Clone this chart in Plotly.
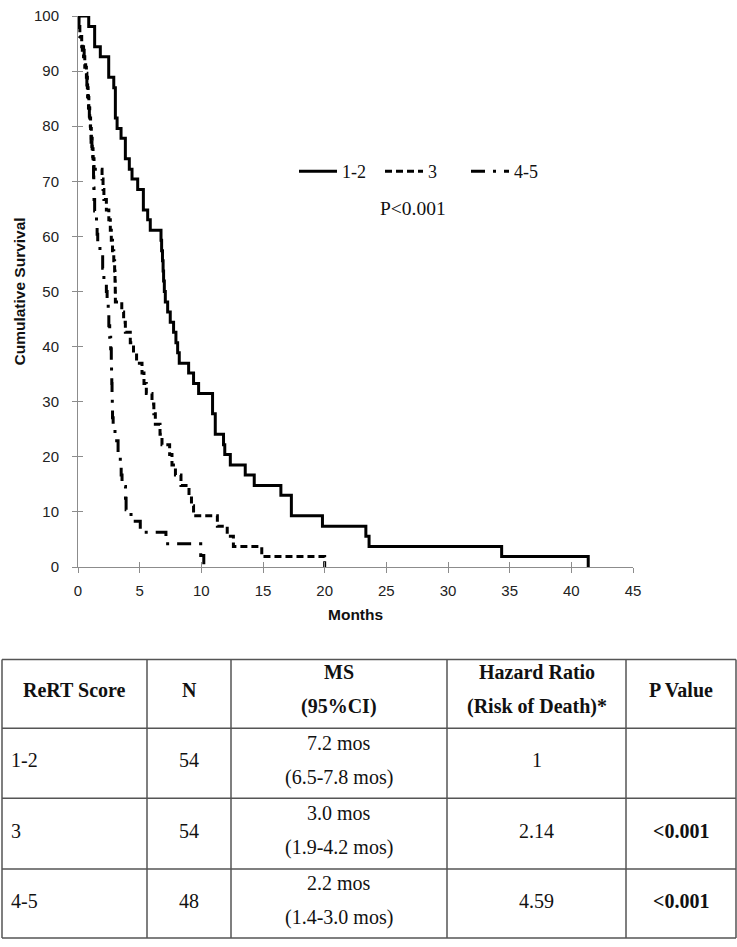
import plotly.graph_objects as go

# ---------------- data ----------------
t12 = [0, 0.87, 1.35, 1.81, 2.49, 2.90, 3.03, 3.17, 3.49, 3.84, 4.16, 4.38, 4.84, 5.30, 5.65, 5.86,
       6.73, 6.78, 6.85, 6.90, 6.94, 7.00, 7.08, 7.27, 7.48, 7.75, 7.94, 8.08, 8.21, 8.97, 9.37, 9.78,
       10.91, 11.13, 11.80, 11.90, 12.35, 13.56, 14.29, 16.45, 17.30, 19.82, 23.34, 23.60, 34.35, 41.37]
s12 = [100, 98.1, 94.4, 92.6, 88.9, 87.0, 81.5, 79.6, 77.8, 74.1, 72.2, 70.4, 68.5, 64.8, 63.0, 61.1,
       59.3, 57.4, 55.6, 53.7, 51.9, 50.0, 48.1, 46.3, 44.4, 42.6, 40.7, 38.9, 37.0, 35.2, 33.3, 31.5,
       27.8, 24.1, 22.2, 20.4, 18.5, 16.7, 14.8, 13.0, 9.3, 7.4, 5.6, 3.7, 1.9, 0]

t3 = [0, 0.05, 0.15, 0.30, 0.45, 0.55, 0.68, 0.76, 0.82, 0.88, 0.95, 1.02, 1.08, 1.15, 1.22, 1.30,
      1.95, 2.03, 2.10, 2.30, 2.50, 2.62, 2.70, 2.80, 2.90, 2.97, 3.00, 3.02, 3.03, 3.55, 3.70, 3.84,
      4.24, 4.50, 4.75, 5.19, 5.35, 5.54, 6.00, 6.15, 6.27, 6.65, 6.81, 7.43, 7.62, 7.90, 8.35, 9.00,
      9.20, 9.37, 11.30, 12.10, 12.60, 14.90, 20.00]
s3 = [100, 98.1, 96.3, 94.4, 92.6, 90.7, 88.9, 87.0, 85.2, 83.3, 81.5, 79.6, 77.8, 75.9, 74.1, 72.2,
      70.4, 68.5, 66.7, 64.8, 63.0, 61.1, 59.3, 57.4, 55.6, 53.7, 51.9, 50.0, 48.1, 46.3, 44.4, 42.6,
      40.7, 38.9, 37.0, 35.2, 33.3, 31.5, 29.6, 27.8, 25.9, 24.1, 22.2, 20.4, 18.5, 16.7, 14.8, 13.0,
      11.1, 9.3, 7.4, 5.6, 3.7, 1.9, 0]

t45 = [0, 0.08, 0.20, 0.35, 0.50, 0.62, 0.72, 0.78, 0.85, 0.92, 1.00, 1.06, 1.13, 1.20, 1.26, 1.28,
       1.30, 1.35, 1.50, 1.55, 1.60, 1.78, 2.00, 2.10, 2.30, 2.36, 2.45, 2.50, 2.57, 2.65, 2.70, 2.72,
       2.74, 2.76, 2.78, 2.80, 2.85, 3.00, 3.25, 3.43, 3.50, 3.57, 3.85, 3.90, 4.30, 5.05, 7.13, 9.95, 10.20]
s45 = [100, 97.9, 95.8, 93.8, 91.7, 89.6, 87.5, 85.4, 83.3, 81.3, 79.2, 77.1, 75.0, 72.9, 70.8, 68.8,
       66.7, 64.6, 62.5, 60.4, 58.3, 56.3, 54.2, 52.1, 50.0, 47.9, 45.8, 43.8, 41.7, 39.6, 37.5, 35.4,
       33.3, 31.3, 29.2, 27.1, 25.0, 22.9, 20.8, 18.8, 16.7, 14.6, 12.5, 10.4, 8.3, 6.3, 4.2, 2.1, 0]

series_names = ["1-2", "3", "4-5"]
x_ticks = [0, 5, 10, 15, 20, 25, 30, 35, 40, 45]
y_ticks = [0, 10, 20, 30, 40, 50, 60, 70, 80, 90, 100]
p_text = "P<0.001"

# table contents
tbl_header = [["ReRT Score"], ["N"], ["MS", "(95%CI)"], ["Hazard Ratio", "(Risk of Death)*"], ["P Value"]]
tbl_score = ["1-2", "3", "4-5"]
tbl_n = ["54", "54", "48"]
tbl_ms = ["7.2 mos", "3.0 mos", "2.2 mos"]
tbl_ci = ["(6.5-7.8 mos)", "(1.9-4.2 mos)", "(1.4-3.0 mos)"]
tbl_hr = ["1", "2.14", "4.59"]
tbl_p = ["", "<0.001", "<0.001"]

# ---------------- layout geometry (pixels) ----------------
W, H = 737, 947
ML, MR, MT, MB = 78, 104, 7, 380
PW = W - ML - MR
PH = H - MT - MB


def px_x(px):
    return (px - ML) / PW


def px_y(py):
    return (H - MB - py) / PH


SERIF = "Liberation Serif, Times New Roman, serif"
SANS = "Liberation Sans, Arial, sans-serif"
AXC = "#8c8c8c"

fig = go.Figure()
styles = [dict(color="black", width=3, dash="solid"),
          dict(color="black", width=3, dash="7px,4px"),
          dict(color="black", width=3, dash="14px,8px,3px,8px")]
for name, tx, sy, st in zip(series_names, [t12, t3, t45], [s12, s3, s45], styles):
    fig.add_trace(go.Scatter(x=tx, y=sy, mode="lines", name=name, line=dict(shape="hv", **st),
                             hoverinfo="skip"))

# invisible trace on overlay axes (for crossing ticks)
fig.add_trace(go.Scatter(x=[0], y=[0], xaxis="x2", yaxis="y2", mode="markers",
                         marker=dict(opacity=0), showlegend=False, hoverinfo="skip"))

fig.update_layout(
    width=W, height=H,
    margin=dict(l=ML, r=MR, t=MT, b=MB, pad=0),
    paper_bgcolor="white", plot_bgcolor="white",
    showlegend=True,
    legend=dict(orientation="h", x=px_x(294), xanchor="left", y=px_y(165), yanchor="middle",
                font=dict(family=SERIF, size=18, color="#111"), entrywidth=33, itemwidth=38,
                bgcolor="rgba(0,0,0,0)", borderwidth=0, tracegroupgap=0),
    xaxis=dict(range=[0, 45], tickvals=x_ticks, ticks="outside", ticklen=5, tickcolor=AXC,
               showline=True, linecolor=AXC, linewidth=1, showgrid=False, zeroline=False,
               tickfont=dict(family=SANS, size=15, color="#222"), ticklabelstandoff=5,
               ticklabeloverflow="allow"),
    yaxis=dict(range=[0, 100], tickvals=y_ticks, ticks="outside", ticklen=5, tickcolor=AXC,
               showline=True, linecolor=AXC, linewidth=1, showgrid=False, zeroline=False,
               tickfont=dict(family=SANS, size=15, color="#222"), ticklabelstandoff=10,
               ticklabeloverflow="allow"),
    xaxis2=dict(range=[0, 45], tickvals=x_ticks, ticks="inside", ticklen=5, tickcolor=AXC,
                overlaying="x", anchor="y2", side="bottom", showticklabels=False,
                showline=False, showgrid=False, zeroline=False),
    yaxis2=dict(range=[0, 100], tickvals=y_ticks, ticks="inside", ticklen=5, tickcolor=AXC,
                overlaying="y", anchor="x2", side="left", showticklabels=False,
                showline=False, showgrid=False, zeroline=False),
)

ann = []
# axis titles
ann.append(dict(text="<b>Months</b>", x=px_x(355), y=px_y(615), xref="paper", yref="paper",
                xanchor="center", yanchor="middle",
                showarrow=False, font=dict(family=SANS, size=15.5, color="#111")))
ann.append(dict(text="<b>Cumulative Survival</b>", x=px_x(19), y=px_y(287), xref="paper", yref="paper",
                xanchor="center", yanchor="middle",
                showarrow=False, textangle=-90, font=dict(family=SANS, size=15.5, color="#111")))
ann.append(dict(text=p_text, x=px_x(413), y=px_y(203), xref="paper", yref="paper",
                xanchor="center", yanchor="middle",
                showarrow=False, font=dict(family=SERIF, size=19.5, color="#111")))

# ---------------- table ----------------
col_edges = [2, 147, 231, 447, 626, 736]
row_edges = [661, 731, 802, 874, 944]
shapes = []
for ry in row_edges:
    shapes.append(dict(type="line", xref="paper", yref="paper", x0=px_x(col_edges[0]), x1=px_x(col_edges[-1]),
                       y0=px_y(ry), y1=px_y(ry), line=dict(color="#555", width=1.5)))
for cx in col_edges:
    shapes.append(dict(type="line", xref="paper", yref="paper", x0=px_x(cx), x1=px_x(cx),
                       y0=px_y(row_edges[0]), y1=px_y(row_edges[-1]), line=dict(color="#555", width=1.5)))

TF = 20


def cell_text(txt, cx, cy, bold=False, xanchor="center"):
    if txt == "":
        return
    t = f"<b>{txt}</b>" if bold else txt
    ann.append(dict(text=t, x=px_x(cx), y=px_y(cy), xref="paper", yref="paper", showarrow=False,
                    xanchor=xanchor, yanchor="middle", font=dict(family=SERIF, size=TF, color="#111")))


centers = [(col_edges[i] + col_edges[i + 1]) / 2 for i in range(5)]
# header
for i, lines in enumerate(tbl_header):
    if len(lines) == 1:
        cell_text(lines[0], centers[i], 692, bold=True)
    else:
        cell_text(lines[0], centers[i], 674, bold=True)
        cell_text(lines[1], centers[i], 709, bold=True)
for r in range(3):
    mid = (row_edges[r + 1] + row_edges[r + 2]) / 2 - 3
    cell_text(tbl_score[r], 9, mid, xanchor="left")
    cell_text(tbl_n[r], centers[1], mid)
    cell_text(tbl_ms[r], centers[2], mid - 18)
    cell_text(tbl_ci[r], centers[2], mid + 17)
    cell_text(tbl_hr[r], centers[3], mid)
    cell_text(tbl_p[r], centers[4], mid, bold=True)

fig.update_layout(annotations=ann, shapes=shapes)
fig.write_html("out.html", config={"displayModeBar": False},
               post_script="document.body.style.margin='0px';document.body.style.overflow='hidden';")
